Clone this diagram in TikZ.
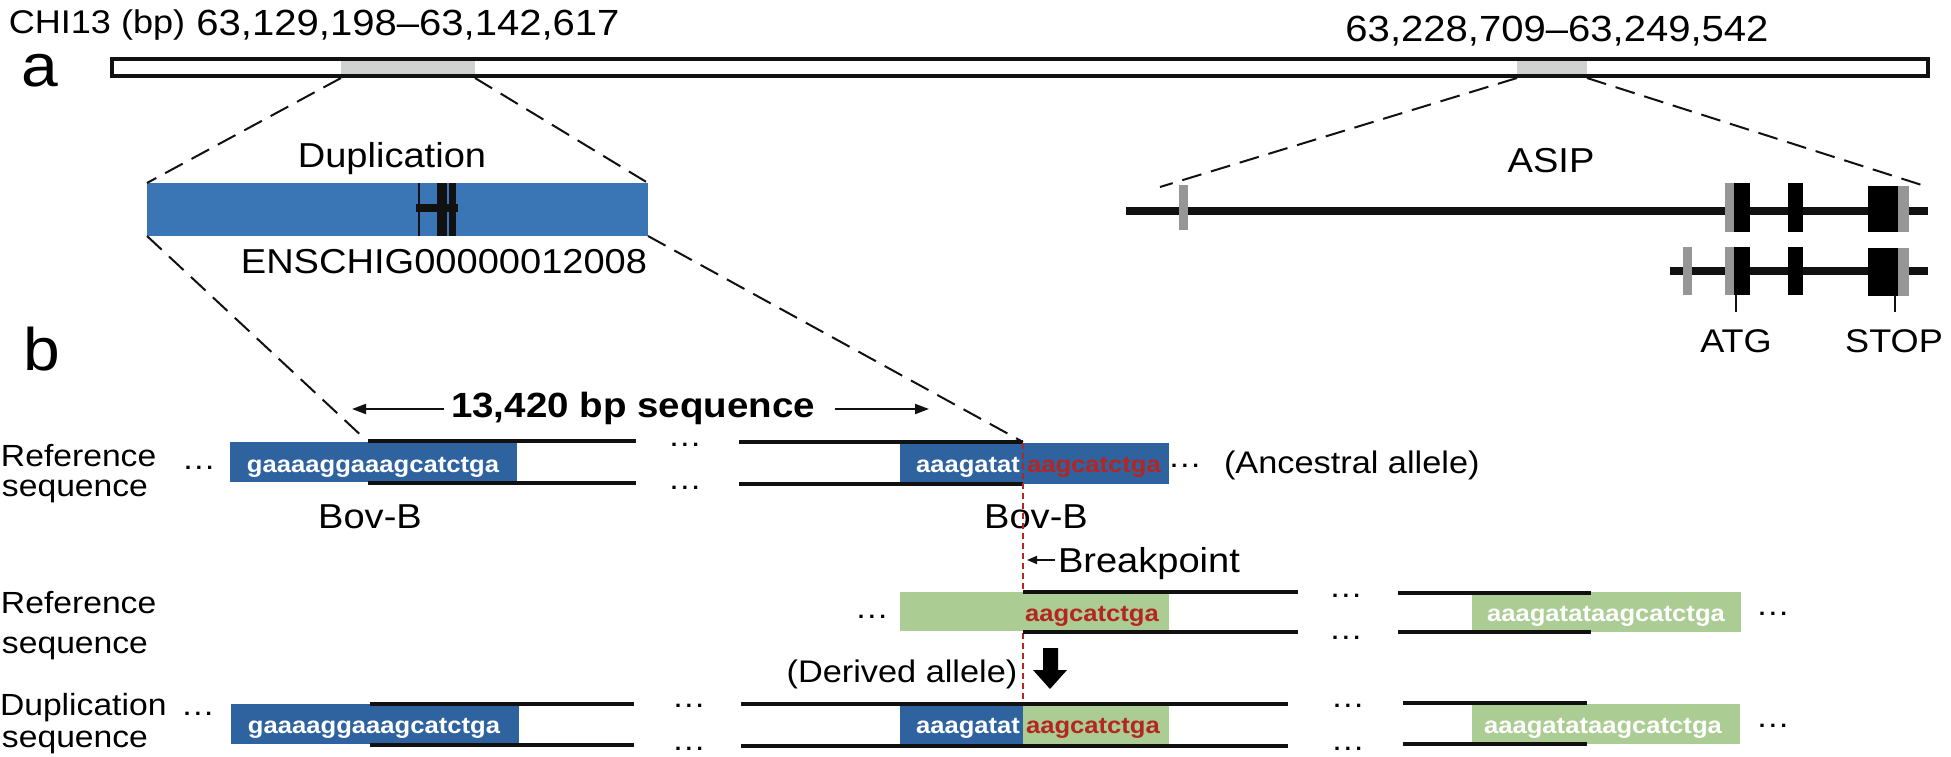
\documentclass[tikz,border=0pt]{standalone}
\usepackage{fontspec}
\setmainfont{Liberation Sans}[FakeStretch=1.1]
\usetikzlibrary{arrows.meta,fit}
\definecolor{dupblue}{RGB}{58,117,182}
\definecolor{seqblue}{RGB}{46,99,160}
\definecolor{seqgreen}{RGB}{171,204,146}
\definecolor{regiongray}{RGB}{208,210,210}
\definecolor{exongray}{RGB}{150,150,150}
\definecolor{bpred}{RGB}{180,38,34}
\definecolor{ink}{RGB}{17,17,17}
\tikzset{
  txt/.style={inner sep=0pt, outer sep=0pt, anchor=base, text=black},
  lbl/.style={txt, font=\fontsize{17.3}{20}\selectfont},
  toplbl/.style={txt, font=\fontsize{18.2}{20}\selectfont},
  smlbl/.style={txt, font=\fontsize{16.4}{20}\selectfont},
  rowlbl/.style={txt, anchor=base west, font=\fontsize{15.3}{18}\selectfont},
  allelelbl/.style={txt, font=\fontsize{15.6}{18}\selectfont},
  panel/.style={txt, font=\fontsize{30}{32}\selectfont},
  seqtxt/.style={txt, font=\fontsize{11.65}{13}\selectfont\bfseries, text=white},
  redseq/.style={seqtxt, text=bpred},
  dots/.style={txt, font=\fontsize{15.5}{18}\selectfont},
  box/.style={inner sep=0pt, outer sep=0pt, draw=none},
  seqline/.style={line width=1.7pt, ink},
  zoomline/.style={line width=1pt, ink, dash pattern=on 10pt off 5pt},
  geneline/.style={line width=4pt, ink},
  exonblack/.style={fill=black},
  exongrey/.style={fill=exongray},
  lenarrow/.style={line width=1pt, ink, -{Triangle[length=7pt,width=5pt]}},
}
\begin{document}
\begin{tikzpicture}[x=0.5pt,y=-0.5pt]
\useasboundingbox (0,0) rectangle (1951,756);

% ---------- panel a: chromosome ----------
\node[panel] (pa) at (40,86) {a};
\node[smlbl] (chr13) at (97,33) {CHI13 (bp)};
\node[toplbl] (pos1) at (408,35) {63,129,198–63,142,617};
\node[toplbl] (pos2) at (1557,41) {63,228,709–63,249,542};

\node[box, fill=regiongray, fit={(341,59)(475,76)}] (dupreg) {};
\node[box, fill=regiongray, fit={(1517,59)(1587,76)}] (asipreg) {};
\node[box, draw=ink, line width=1.75pt, fit={(112,59)(1928,76)}] (chr) {};

% ---------- duplication box ----------
\node[box, fill=dupblue, fit={(147,183)(648,236)}] (dupbox) {};
\draw[line width=1pt, ink] (419,183) -- (419,236);
\fill[ink] (416,204) rectangle (458,212);
\fill[ink] (437,183) rectangle (447,236);
\fill[ink] (449,183) rectangle (456,236);
\node[lbl] (duplbl) at (392,167) {Duplication};
\node[lbl] (enslbl) at (444,273) {ENSCHIG00000012008};

\coordinate (dupregL) at (341,78);
\coordinate (dupregR) at (475,78);
\draw[zoomline] (dupregL) -- (dupbox.north west);
\draw[zoomline] (dupregR) -- (dupbox.north east);

% ---------- ASIP ----------
\node[lbl] (asiplbl) at (1551,172) {ASIP};
\coordinate (asipregL) at (1517,78);
\coordinate (asipregR) at (1587,78);
\coordinate (asipL) at (1160,187);
\coordinate (asipR) at (1928,187);
\draw[zoomline] (asipregL) -- (asipL);
\draw[zoomline] (asipregR) -- (asipR);

\coordinate (g1s) at (1126,211);
\coordinate (g1e) at (1928,211);
\draw[geneline] (g1s) -- (g1e);
\fill[exongrey] (1179,185) rectangle (1188,230);
\fill[exongrey] (1725,183) rectangle (1734,232);
\fill[exonblack] (1734,183) rectangle (1750,232);
\fill[exonblack] (1788,183) rectangle (1803,232);
\fill[exonblack] (1868,186) rectangle (1898,232);
\fill[exongrey] (1898,186) rectangle (1909,232);

\coordinate (g2s) at (1670,271);
\coordinate (g2e) at (1928,271);
\draw[geneline] (g2s) -- (g2e);
\fill[exongrey] (1683,247) rectangle (1692,295);
\fill[exongrey] (1725,247) rectangle (1734,295);
\fill[exonblack] (1734,247) rectangle (1750,295);
\fill[exonblack] (1788,247) rectangle (1803,295);
\fill[exonblack] (1868,248) rectangle (1898,296);
\fill[exongrey] (1898,248) rectangle (1909,296);

\node[smlbl] (atg) at (1736,352) {ATG};
\node[smlbl] (stop) at (1894,352) {STOP};
\coordinate (atgtop) at (1736,295);
\coordinate (stoptop) at (1895,295);
\draw[line width=0.75pt, ink] (atgtop) -- ++(0,17);
\draw[line width=0.75pt, ink] (stoptop) -- ++(0,17);

% ---------- panel b ----------
\node[panel] (pb) at (42,370) {b};

% row 1
\node[rowlbl] (r1l1) at (1,466) {Reference};
\node[rowlbl] (r1l2) at (2,496) {sequence};
\node[dots] (r1d0) at (199,469) {…};
\node[box, fill=seqblue, fit={(230,442)(517,482)}] (r1b1) {};
\node[seqtxt] (r1t1) at (373,472) {gaaaaggaaagcatctga};
\node[box, fill=seqblue, fit={(900,443)(1169,484)}] (r1b2) {};
\node[seqtxt, anchor=base east] (r1t2) at (1020,472) {aaagatat};
\node[redseq, anchor=base west] (r1t3) at (1027,472) {aagcatctga};
\draw[seqline] (368,441) -- (636,441);
\draw[seqline] (368,483) -- (636,483);
\draw[seqline] (739,442) -- (1023,442);
\draw[seqline] (739,484) -- (1023,484);
\node[dots] (r1d1) at (685,446) {…};
\node[dots] (r1d2) at (685,489) {…};
\node[dots] (r1d3) at (1185,467) {…};
\node[allelelbl, anchor=base west] (anc) at (1224,473) {(Ancestral allele)};
\node[lbl] (bovL) at (370,528) {Bov-B};
\node[lbl] (bovR) at (1036,528) {Bov-B};

\draw[zoomline] (dupbox.south west) -- (366,440);
\draw[zoomline] (dupbox.south east) -- (1023,442);

% sequence length
\node[txt, font=\fontsize{17.5}{20}\selectfont\bfseries] (len) at (633,417) {13,420 bp sequence};
\coordinate (lenLs) at (444,409);
\coordinate (lenLe) at (352,409);
\coordinate (lenRs) at (835,409);
\coordinate (lenRe) at (929,409);
\draw[lenarrow] (lenLs) -- (lenLe);
\draw[lenarrow] (lenRs) -- (lenRe);

% breakpoint
\coordinate (bptop) at (1023,443);
\coordinate (bpbot) at (1023,747);
\draw[line width=0.8pt, bpred, dash pattern=on 3pt off 2pt] (bptop) -- (bpbot);
\node[lbl, anchor=base west] (bplbl) at (1058,572) {Breakpoint};
\coordinate (bpas) at (1055,560);
\coordinate (bpae) at (1027,560);
\draw[line width=0.8pt, ink, -{Triangle[length=5pt,width=4pt]}] (bpas) -- (bpae);

% row 2
\node[rowlbl] (r2l1) at (1,613) {Reference};
\node[rowlbl] (r2l2) at (2,653) {sequence};
\node[dots] (r2d0) at (872,618) {…};
\node[box, fill=seqgreen, fit={(900,592)(1169,631)}] (r2b1) {};
\node[redseq, anchor=base west] (r2t1) at (1025,621) {aagcatctga};
\draw[seqline] (1023,592) -- (1298,592);
\draw[seqline] (1023,632) -- (1298,632);
\node[dots] (r2d1) at (1346,597) {…};
\node[dots] (r2d2) at (1346,639) {…};
\node[box, fill=seqgreen, fit={(1472,592)(1741,632)}] (r2b2) {};
\node[seqtxt] (r2t2) at (1606,621) {aaagatataagcatctga};
\draw[seqline] (1398,593) -- (1591,593);
\draw[seqline] (1398,632) -- (1591,632);
\node[dots] (r2d3) at (1773,615) {…};

% derived arrow
\node[allelelbl] (der) at (902,682) {(Derived allele)};
\fill[black] (1043,648) -- (1058,648) -- (1058,670) -- (1067,670) -- (1050,689) -- (1033,670) -- (1043,670) -- cycle;

% row 3
\node[rowlbl] (r3l1) at (0,715) {Duplication};
\node[rowlbl] (r3l2) at (2,747) {sequence};
\node[dots] (r3d0) at (198,715) {…};
\node[box, fill=seqblue, fit={(231,704)(519,744)}] (r3b1) {};
\node[seqtxt] (r3t1) at (374,733) {gaaaaggaaagcatctga};
\draw[seqline] (370,704) -- (634,704);
\draw[seqline] (370,745) -- (634,745);
\node[dots] (r3d1) at (689,707) {…};
\node[dots] (r3d2) at (689,750) {…};
\node[box, fill=seqblue, fit={(900,705)(1023,745)}] (r3b2) {};
\node[box, fill=seqgreen, fit={(1023,705)(1169,745)}] (r3b3) {};
\node[seqtxt, anchor=base east] (r3t2) at (1020,733) {aaagatat};
\node[redseq, anchor=base west] (r3t3) at (1026,733) {aagcatctga};
\draw[seqline] (741,704) -- (1288,704);
\draw[seqline] (741,746) -- (1288,746);
\node[dots] (r3d3) at (1348,707) {…};
\node[dots] (r3d4) at (1348,750) {…};
\node[box, fill=seqgreen, fit={(1472,704)(1740,744)}] (r3b4) {};
\node[seqtxt] (r3t4) at (1603,733) {aaagatataagcatctga};
\draw[seqline] (1403,703) -- (1587,703);
\draw[seqline] (1403,744) -- (1587,744);
\node[dots] (r3d5) at (1773,727) {…};
\end{tikzpicture}
\end{document}
